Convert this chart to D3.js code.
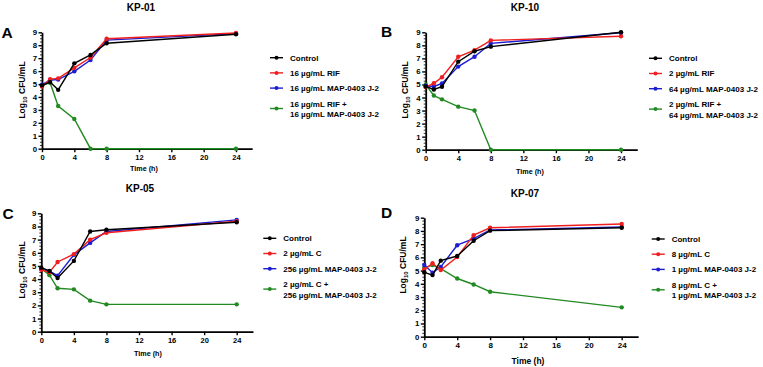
<!DOCTYPE html>
<html><head><meta charset="utf-8">
<script src="https://cdn.jsdelivr.net/npm/d3@7"></script>
<style>
body{margin:0;background:#fff;}
svg{font-family:"Liberation Sans",Arial,sans-serif;font-weight:bold;}
</style></head>
<body><svg id="c" width="763" height="367"></svg>
<script>
// ---------------- data ----------------
const times = [0, 1, 2, 4, 6, 8, 24];
const xTicks = [0, 4, 8, 12, 16, 20, 24];
const yTicks = [0, 1, 2, 3, 4, 5, 6, 7, 8, 9];
const seriesColors = ["#000000", "#f01e1e", "#1c1cd2", "#228a22"];

const titles = ["KP-01", "KP-10", "KP-05", "KP-07"];
const letters = ["A", "B", "C", "D"];

const kp01Control = [4.9, 5.15, 4.55, 6.6, 7.25, 8.15, 8.85];
const kp01Drug    = [4.8, 5.38, 5.44, 6.25, 7.05, 8.5, 8.95];
const kp01Map     = [4.95, 5.3, 5.35, 5.98, 6.85, 8.4, 8.9];
const kp01Combo   = [4.9, 5.1, 3.3, 2.3, 0, 0, 0];
const kp01Labels  = ["Control", "16 µg/mL RIF", "16 µg/mL MAP-0403 J-2", ["16 µg/mL RIF +", "16 µg/mL MAP-0403 J-2"]];

const kp10Control = [4.85, 4.62, 4.83, 6.75, 7.55, 7.9, 9.0];
const kp10Drug    = [4.8, 5.09, 5.55, 7.12, 7.63, 8.38, 8.7];
const kp10Map     = [4.9, 4.85, 5.08, 6.37, 7.13, 8.15, 8.97];
const kp10Combo   = [5.0, 4.15, 3.86, 3.3, 3.0, 0, 0];
const kp10Labels  = ["Control", "2 µg/mL RIF", "64 µg/mL MAP-0403 J-2", ["2 µg/mL RIF +", "64 µg/mL MAP-0403 J-2"]];

const kp05Control = [4.87, 4.62, 4.08, 5.38, 7.62, 7.75, 8.32];
const kp05Drug    = [4.7, 4.52, 5.3, 5.9, 7.0, 7.52, 8.4];
const kp05Map     = [4.75, 4.6, 4.26, 5.84, 6.75, 7.62, 8.5];
const kp05Combo   = [4.8, 4.3, 3.3, 3.22, 2.36, 2.08, 2.08];
const kp05Labels  = ["Control", "2 µg/mL C", "256 µg/mL MAP-0403 J-2", ["2 µg/mL C +", "256 µg/mL MAP-0403 J-2"]];

const kp07Control = [4.87, 4.66, 5.75, 6.1, 7.26, 8.02, 8.24];
const kp07Drug    = [5.08, 5.55, 5.04, 6.02, 7.68, 8.24, 8.52];
const kp07Map     = [5.42, 4.84, 5.28, 6.92, 7.42, 8.07, 8.3];
const kp07Combo   = [5.2, 5.42, 5.15, 4.4, 3.95, 3.4, 2.22];
const kp07Labels  = ["Control", "8 µg/mL C", "1 µg/mL MAP-0403 J-2", ["8 µg/mL C +", "1 µg/mL MAP-0403 J-2"]];

const panelSeries = [
  [kp01Control, kp01Drug, kp01Map, kp01Combo],
  [kp10Control, kp10Drug, kp10Map, kp10Combo],
  [kp05Control, kp05Drug, kp05Map, kp05Combo],
  [kp07Control, kp07Drug, kp07Map, kp07Combo]
];
const panelLabels = [kp01Labels, kp10Labels, kp05Labels, kp07Labels];

// ---------------- layout ----------------
const layout = [
  {x0:42,  x24:236,   y0:148.7, y9:32.3,  titleX:141, titleY:10.5, letX:1.5,  letY:37.5, ylabX:22,  ylabY:90,  tX:144, tY:171,   tFont:7.2, legX:290,   legY:57.7},
  {x0:425.7, x24:621, y0:149.7, y9:32.3,  titleX:525, titleY:10.5, letX:381,  letY:36.5, ylabX:405, ylabY:90,  tX:530, tY:174,   tFont:7.2, legX:669,   legY:58.3},
  {x0:41.3, x24:236.7, y0:331.7, y9:213.3, titleX:140, titleY:191.5, letX:2.5, letY:218.5, ylabX:22, ylabY:270, tX:148, tY:356,   tFont:7.2, legX:283.3, legY:238.3},
  {x0:424.3, x24:621.7, y0:336.7, y9:217.7, titleX:525, titleY:196.5, letX:381, letY:218, ylabX:403, ylabY:265, tX:528, tY:363.5, tFont:8.5, legX:671.7, legY:239}
];

const svg = d3.select("#c");

layout.forEach((L, pi) => {
  const pxPerHour = (L.x24 - L.x0) / 24;
  const x = d3.scaleLinear().domain([0, 26]).range([L.x0, L.x0 + 26 * pxPerHour]);
  const y = d3.scaleLinear().domain([0, 9]).range([L.y0, L.y9]);
  const g = svg.append("g");

  // minor y ticks
  const minor = d3.range(0, 9.001, 0.25).filter(v => Math.abs(v - Math.round(v)) > 1e-6);
  g.append("g").attr("transform", `translate(${L.x0},0)`)
    .selectAll("line").data(minor).join("line")
    .attr("x1", -2).attr("x2", 0).attr("y1", d => y(d)).attr("y2", d => y(d))
    .attr("stroke", "#000").attr("stroke-width", 0.8);

  // y axis
  const ya = g.append("g").attr("transform", `translate(${L.x0},0)`)
    .call(d3.axisLeft(y).tickValues(yTicks).tickSize(3.5).tickSizeOuter(0).tickPadding(1.5));
  ya.select(".domain").attr("stroke-width", 1.8);
  ya.selectAll(".tick line").attr("stroke-width", 1.4);
  ya.selectAll("text").attr("font-size", 7.8).attr("font-weight", "bold")
    .attr("font-family", "Liberation Sans, Arial, sans-serif").attr("fill", "#000");

  // x axis
  const xa = g.append("g").attr("transform", `translate(0,${L.y0})`)
    .call(d3.axisBottom(x).tickValues(xTicks).tickSize(3.5).tickSizeOuter(0).tickPadding(2));
  xa.select(".domain").attr("stroke-width", 1.8);
  xa.selectAll(".tick line").attr("stroke-width", 1.4);
  xa.selectAll("text").attr("font-size", pi === 3 ? 8 : 7.5).attr("font-weight", "bold")
    .attr("font-family", "Liberation Sans, Arial, sans-serif").attr("fill", "#000");

  // series (draw green first, then blue, red, black on top)
  const line = d3.line().x((d, i) => x(times[i])).y(d => y(d));
  [3, 2, 1, 0].forEach(si => {
    const vals = panelSeries[pi][si];
    g.append("path").datum(vals).attr("d", line)
      .attr("fill", "none").attr("stroke", seriesColors[si]).attr("stroke-width", 1.4);
    g.append("g").selectAll("circle").data(vals).join("circle")
      .attr("cx", (d, i) => x(times[i])).attr("cy", d => y(d)).attr("r", 2.2)
      .attr("fill", seriesColors[si]);
  });

  // title
  g.append("text").attr("x", L.titleX).attr("y", L.titleY).attr("text-anchor", "middle")
    .attr("font-size", 10).text(titles[pi]);
  // panel letter
  g.append("text").attr("x", L.letX).attr("y", L.letY).attr("font-size", 15.5).text(letters[pi]);

  // y label
  const yl = g.append("text").attr("transform", `translate(${L.ylabX + 3},${L.ylabY}) rotate(-90)`)
    .attr("text-anchor", "middle").attr("font-size", 8.5);
  yl.append("tspan").text("Log");
  yl.append("tspan").attr("font-size", 6).attr("dy", 2).text("10");
  yl.append("tspan").attr("dy", -2).text(" CFU/mL");

  // x label
  g.append("text").attr("x", L.tX).attr("y", L.tY).attr("text-anchor", "middle")
    .attr("font-size", L.tFont).text("Time (h)");

  // legend
  const rowY = [L.legY, L.legY + 15.2, L.legY + 30.4, L.legY + 50.8];
  panelLabels[pi].forEach((lab, si) => {
    const ry = rowY[si];
    g.append("line").attr("x1", L.legX - 20).attr("x2", L.legX - 7).attr("y1", ry).attr("y2", ry)
      .attr("stroke", seriesColors[si]).attr("stroke-width", 1.4);
    g.append("circle").attr("cx", L.legX - 13.5).attr("cy", ry).attr("r", 2).attr("fill", seriesColors[si]);
    if (Array.isArray(lab)) {
      g.append("text").attr("x", L.legX).attr("y", ry - 4.7 + 2.8).attr("font-size", 8).text(lab[0]);
      g.append("text").attr("x", L.legX).attr("y", ry + 5.7 + 2.8).attr("font-size", 8).text(lab[1]);
    } else {
      g.append("text").attr("x", L.legX).attr("y", ry + 2.8).attr("font-size", 8).text(lab);
    }
  });
});
</script>
</body></html>
